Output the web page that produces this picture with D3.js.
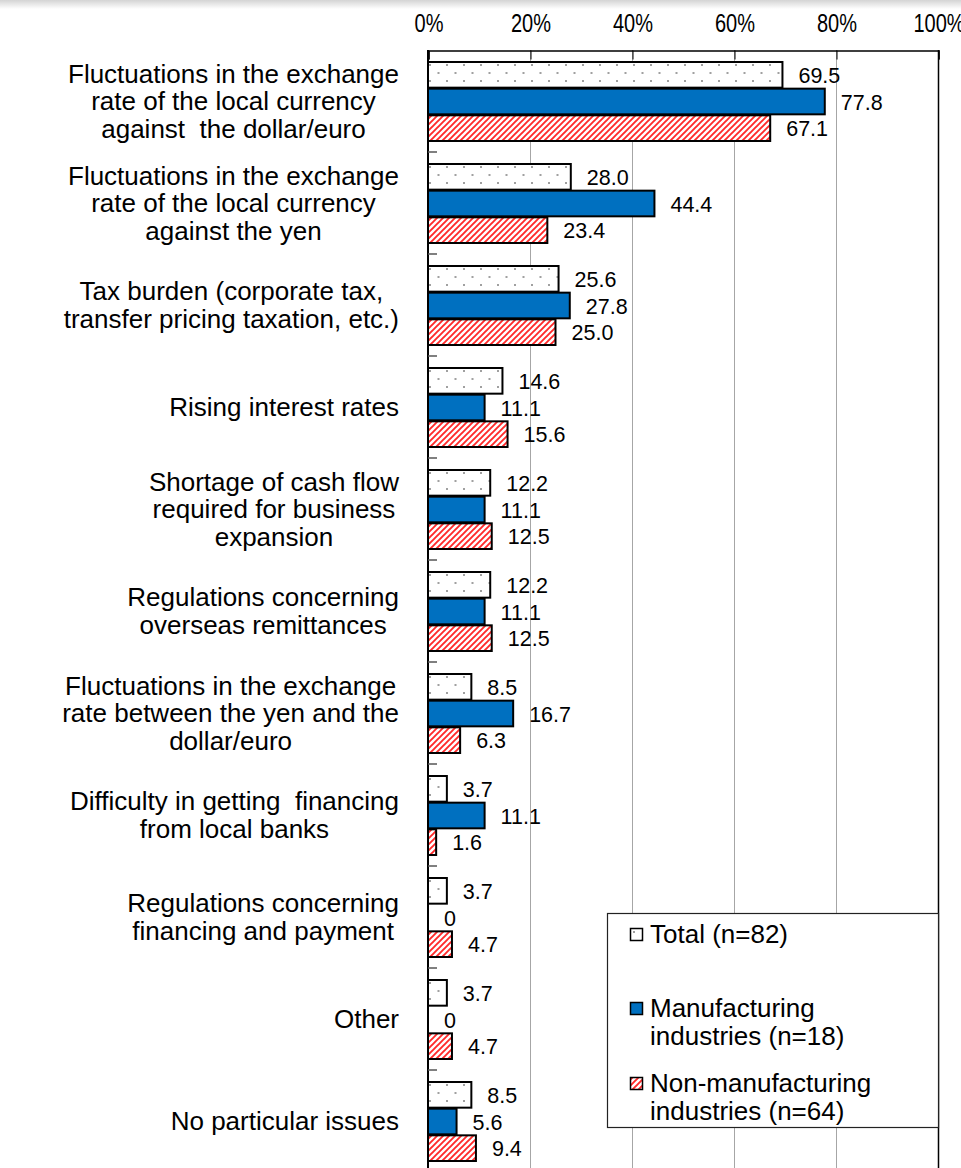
<!DOCTYPE html>
<html>
<head>
<meta charset="utf-8">
<script src="https://cdn.jsdelivr.net/npm/d3@7"></script>
<style>
  html, body { margin: 0; padding: 0; background: #fff; }
  svg { display: block; }
  text { font-family: "Liberation Sans", Arial, sans-serif; fill: #000; }
</style>
</head>
<body>
<svg id="chart" width="961" height="1168"></svg>
<script>
// Issue categories (line breaks mark the wrapped label lines)
const categories = [
  "Fluctuations in the exchange\nrate of the local currency\nagainst  the dollar/euro",
  "Fluctuations in the exchange\nrate of the local currency\nagainst the yen",
  "Tax burden (corporate tax,\ntransfer pricing taxation, etc.)",
  "Rising interest rates",
  "Shortage of cash flow\nrequired for business\nexpansion",
  "Regulations concerning\noverseas remittances",
  "Fluctuations in the exchange\nrate between the yen and the\ndollar/euro",
  "Difficulty in getting  financing\nfrom local banks",
  "Regulations concerning\nfinancing and payment",
  "Other",
  "No particular issues"
];

// Share of respondents (%)
const totalValues            = [69.5, 28.0, 25.6, 14.6, 12.2, 12.2, 8.5, 3.7, 3.7, 3.7, 8.5];
const manufacturingValues    = [77.8, 44.4, 27.8, 11.1, 11.1, 11.1, 16.7, 11.1, 0, 0, 5.6];
const nonManufacturingValues = [67.1, 23.4, 25.0, 15.6, 12.5, 12.5, 6.3, 1.6, 4.7, 4.7, 9.4];

const seriesKeys   = ["total", "manufacturing", "nonManufacturing"];
const seriesLabels = ["Total (n=82)", "Manufacturing\nindustries (n=18)", "Non-manufacturing\nindustries (n=64)"];
const tickValues   = [0, 20, 40, 60, 80, 100];

const seriesValues = {
  total: totalValues,
  manufacturing: manufacturingValues,
  nonManufacturing: nonManufacturingValues
};

const svg = d3.select("#chart");
const W = 961, H = 1168;

// faint shadow along the top edge
const defs = svg.append("defs");
const shade = defs.append("linearGradient").attr("id", "topShade")
  .attr("x1", 0).attr("y1", 0).attr("x2", 0).attr("y2", 1);
shade.append("stop").attr("offset", "0%").attr("stop-color", "#d4d4d4");
shade.append("stop").attr("offset", "100%").attr("stop-color", "#ffffff");
svg.append("rect").attr("x", 0).attr("y", 0).attr("width", W).attr("height", 9)
  .attr("fill", "url(#topShade)");

// fill patterns
const dots = defs.append("pattern").attr("id", "dots")
  .attr("patternUnits", "userSpaceOnUse").attr("width", 17).attr("height", 16);
dots.append("rect").attr("width", 17).attr("height", 16).attr("fill", "#fff");
dots.append("rect").attr("x", 4).attr("y", 3).attr("width", 2).attr("height", 2).attr("fill", "#a0a0a0");
dots.append("rect").attr("x", 12.5).attr("y", 11).attr("width", 2).attr("height", 2).attr("fill", "#a0a0a0");

const stripes = defs.append("pattern").attr("id", "stripes")
  .attr("patternUnits", "userSpaceOnUse").attr("width", 6).attr("height", 6);
stripes.append("rect").attr("width", 6).attr("height", 6).attr("fill", "#fff");
stripes.append("path").attr("d", "M-1,7 L7,-1 M-4,4 L4,-4 M2,10 L10,2")
  .attr("stroke", "#ff2a2a").attr("stroke-width", 1.9);

const fills = {
  total: "url(#dots)",
  manufacturing: "#0070c0",
  nonManufacturing: "url(#stripes)"
};

// scales
const x = d3.scaleLinear().domain([0, 100]).range([428, 938]);
const step = 102;
const plotTop = 50;
const y = d3.scaleBand()
  .domain(d3.range(categories.length))
  .range([plotTop, plotTop + step * categories.length])
  .paddingInner(0.2157)
  .paddingOuter(0.1078);
const ySub = d3.scaleBand().domain(seriesKeys).range([0, y.bandwidth()]);

// gridlines
svg.append("g").selectAll("line")
  .data(tickValues.filter(t => t > 0 && t < 100))
  .join("line")
  .attr("x1", d => x(d) + 0.5).attr("x2", d => x(d) + 0.5)
  .attr("y1", plotTop).attr("y2", H)
  .attr("stroke", "#a6a6a6").attr("stroke-width", 1);

// top axis
const axis = svg.append("g")
  .attr("transform", `translate(0.5,${plotTop + 0.5})`)
  .call(d3.axisTop(x).tickValues(tickValues).tickFormat(d => d + "%")
    .tickSize(-9).tickPadding(19));
axis.select(".domain").attr("stroke", "#000").attr("stroke-width", 1.5);
axis.selectAll(".tick line").attr("stroke", "#000");
axis.selectAll(".tick text")
  .attr("font-family", "'Liberation Sans', Arial, sans-serif")
  .attr("font-size", 25)
  .attr("transform", "scale(0.8,1)");

// right frame
svg.append("line")
  .attr("x1", x(100) + 0.5).attr("x2", x(100) + 0.5)
  .attr("y1", plotTop).attr("y2", H)
  .attr("stroke", "#000").attr("stroke-width", 1.5);

// bars
const groups = svg.append("g").selectAll("g")
  .data(categories.map((c, i) => i))
  .join("g")
  .attr("transform", i => `translate(0,${y(i)})`);

groups.selectAll("rect")
  .data(i => seriesKeys.map(k => ({ key: k, value: seriesValues[k][i] })).filter(d => d.value > 0))
  .join("rect")
  .attr("x", x(0))
  .attr("y", d => ySub(d.key) + 1)
  .attr("width", d => x(d.value) - x(0))
  .attr("height", ySub.bandwidth() - 1)
  .attr("fill", d => fills[d.key])
  .attr("stroke", "#000")
  .attr("stroke-width", 2);

// value labels
groups.selectAll("text.val")
  .data(i => seriesKeys.map(k => ({ key: k, value: seriesValues[k][i] })))
  .join("text")
  .attr("class", "val")
  .attr("x", d => x(d.value) + 16)
  .attr("y", d => ySub(d.key) + ySub.bandwidth() / 2 + 1)
  .attr("dy", "0.36em")
  .attr("font-size", 21.5)
  .text(d => d.value === 0 ? "0" : d.value.toFixed(1));

// left axis line and boundary ticks
svg.append("line")
  .attr("x1", x(0)).attr("x2", x(0))
  .attr("y1", plotTop).attr("y2", H)
  .attr("stroke", "#000").attr("stroke-width", 2);
svg.append("g").selectAll("line")
  .data(d3.range(1, categories.length))
  .join("line")
  .attr("x1", x(0)).attr("x2", x(0) + 9)
  .attr("y1", i => y(i) - y.step() * y.paddingInner() / 2)
  .attr("y2", i => y(i) - y.step() * y.paddingInner() / 2)
  .attr("stroke", "#555").attr("stroke-width", 1.5);

// category labels: block right-aligned to the axis, lines centred within it
const labelRight = 399;
const lineGap = 27.5;
const catFont = 26;
categories.forEach((label, i) => {
  const lines = label.split("\n");
  const cy = y(i) + y.bandwidth() / 2;
  const g = svg.append("g");
  const texts = lines.map((ln, j) => g.append("text")
    .attr("font-size", catFont)
    .style("white-space", "pre")
    .attr("text-anchor", "middle")
    .attr("y", cy + (j - (lines.length - 1) / 2) * lineGap + catFont * 0.35)
    .text(ln));
  const maxW = d3.max(texts, t => t.node().getComputedTextLength());
  texts.forEach(t => t.attr("x", labelRight - maxW / 2));
});

// legend
const legend = svg.append("g");
legend.append("rect")
  .attr("x", 607.5).attr("y", 913.5)
  .attr("width", x(100) - 607).attr("height", 214)
  .attr("fill", "#fff").attr("stroke", "#222").attr("stroke-width", 1.2);
const legendTop = [943, 1017, 1092];
seriesKeys.forEach((k, i) => {
  legend.append("rect")
    .attr("x", 630.5).attr("y", legendTop[i] - 14.5)
    .attr("width", 12).attr("height", 12)
    .attr("fill", fills[k]).attr("stroke", "#000").attr("stroke-width", 1.5);
  seriesLabels[i].split("\n").forEach((ln, j) => {
    legend.append("text")
      .attr("x", 650).attr("y", legendTop[i] + j * 27.5)
      .attr("font-size", 26)
      .text(ln);
  });
});
</script>
</body>
</html>
